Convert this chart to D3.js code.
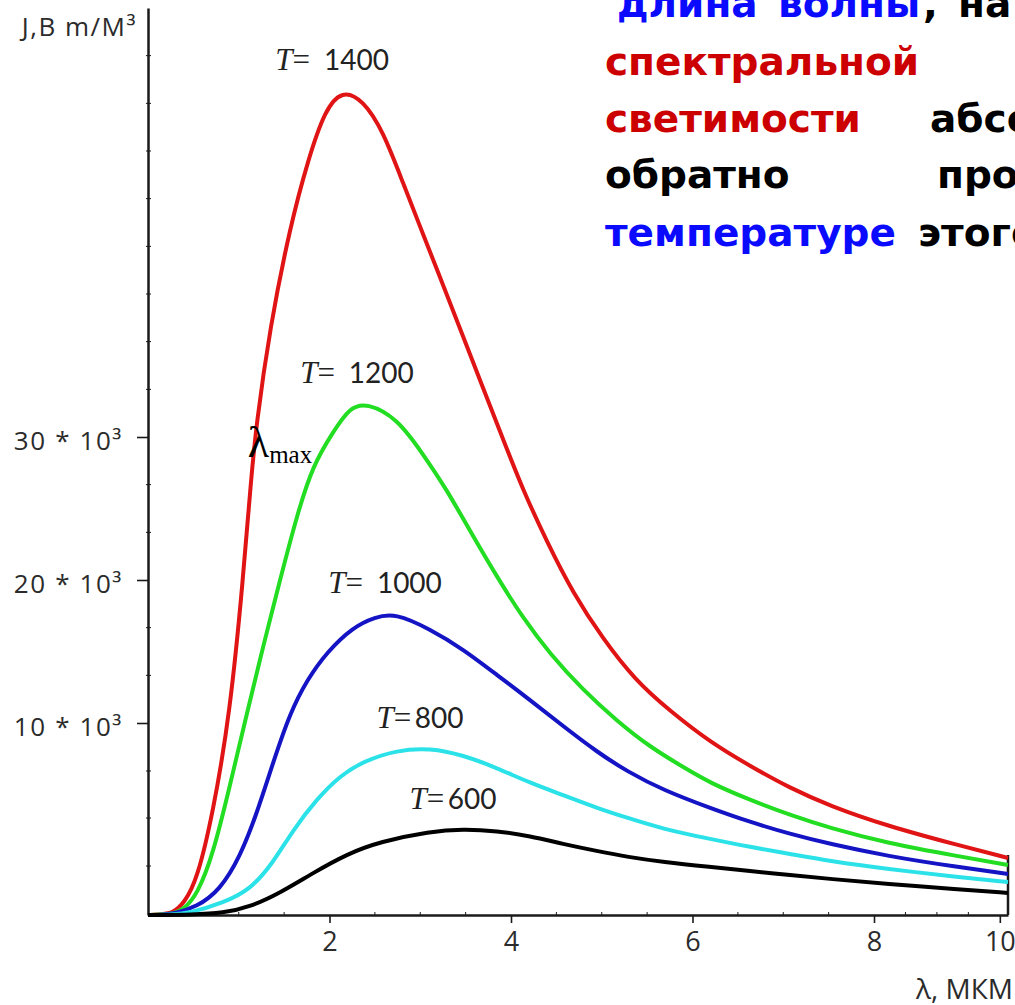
<!DOCTYPE html>
<html>
<head>
<meta charset="utf-8">
<script src="https://cdn.jsdelivr.net/npm/d3@7"></script>
<style>
  body { margin: 0; background: #fff; }
  svg { display: block; }
  .axis text { font-family: "Open Sans", Lato, sans-serif; fill: #2b2b2b; }
  .axis path, .axis line { stroke: #1a1a1a; }
</style>
</head>
<body>
<svg width="1015" height="1005"></svg>
<script>
// points: [lambda (мкм), value in 10^3 units]
var t1400 = [[0,0],[0.15,0.03],[0.275,0.10],[0.40,0.63],[0.54,1.82],[0.716,5.31],[0.904,10.70],
  [1.047,20.0],[1.135,26.99],[1.19,30.70],[1.344,37.69],[1.565,44.69],[1.763,49.37],[1.95,52.87],
  [2.138,54.27],[2.369,53.57],[2.59,51.40],[2.81,47.76],[3.03,44.20],[3.251,40.63],[3.471,37.06],
  [3.691,33.43],[3.912,29.86],[4.132,26.29],[4.397,22.66],[4.683,19.09],[5.014,15.87],[5.366,13.01],
  [5.752,10.84],[6.193,9.01],[6.634,7.76],[7.074,6.61],[7.515,5.68],[8.207,4.64],[9.32,3.65],[10.13,2.97]];
var t1200 = [[0,0],[0.15,0.02],[0.275,0.06],[0.397,0.31],[0.54,1.04],[0.716,3.13],[0.904,6.77],
  [1.091,10.70],[1.267,15.31],[1.455,20.0],[1.642,24.55],[1.818,28.04],[2.039,30.35],[2.226,32.10],
  [2.413,32.38],[2.744,31.33],[3.03,28.81],[3.295,26.29],[3.548,23.43],[3.846,20.21],[4.132,17.34],
  [4.43,14.83],[4.793,12.31],[5.168,10.14],[5.532,8.75],[5.895,7.71],[6.193,6.88],[6.634,5.99],
  [7.074,5.21],[7.515,4.53],[8.207,3.75],[9.32,3.07],[10.13,2.60]];
var t1000 = [[0,0],[0.15,0.01],[0.275,0.05],[0.54,0.42],[0.793,1.30],[1.014,3.02],[1.201,5.31],
  [1.377,7.92],[1.565,10.70],[1.752,13.01],[1.972,14.97],[2.259,16.71],[2.501,17.41],[2.722,17.69],
  [3.107,16.57],[3.471,15.17],[3.846,13.36],[4.209,11.61],[4.573,9.84],[4.948,8.49],[5.289,7.45],
  [5.675,6.51],[6.193,5.57],[6.634,4.84],[7.074,4.22],[7.515,3.70],[8.207,3.07],[9.32,2.50],[10.13,2.14]];
var t800 = [[0,0],[0.25,0.01],[0.463,0.10],[0.826,0.63],[1.124,1.30],[1.377,2.71],[1.598,4.43],
  [1.862,6.05],[2.116,7.25],[2.369,8.0],[2.744,8.59],[3.107,8.70],[3.471,8.33],[3.846,7.66],
  [4.209,6.88],[4.573,6.25],[4.948,5.57],[5.289,5.05],[5.675,4.48],[6.193,3.96],[6.634,3.54],
  [7.074,3.18],[7.515,2.81],[8.207,2.40],[9.32,1.98],[10.13,1.72]];
var t600 = [[0,0],[0.5,0.02],[0.826,0.10],[1.124,0.42],[1.455,1.15],[1.818,2.19],[2.193,3.18],
  [2.556,3.82],[3.107,4.35],[3.471,4.48],[3.846,4.38],[4.209,4.11],[4.573,3.70],[4.948,3.33],
  [5.289,3.02],[5.675,2.76],[6.193,2.50],[6.634,2.29],[7.074,2.08],[7.515,1.88],[8.207,1.61],
  [9.32,1.35],[10.13,1.15]];

var temps = [1400, 1200, 1000, 800, 600];
var seriesData = [t1400, t1200, t1000, t800, t600];
var colors = ["#e01414", "#22dd22", "#1414c4", "#2ae2e8", "#000000"];

var xTicks = [2, 4, 6, 8, 10];
var xMinor = [0.5,1,1.5,2.5,3,3.5,4.5,5,5.5,6.5,7,7.5,8.5,9,9.5];
var yTicks = [10, 20, 30];
var yMinor = [2.55,5.05,7.5,13.33,16.67,23.33,26.67,33.33,36.67,40,43.33,46.67,50,53.33,56.67];

var svg = d3.select("svg");

var x = d3.scaleLinear().domain([0, 8, 10.13]).range([148, 874, 1008]);
var y = d3.scaleLinear().domain([0, 10, 60]).range([915, 723, 8]);

// axes
var gx = svg.append("g").attr("class", "axis")
    .attr("transform", "translate(0," + y(0) + ")")
    .call(d3.axisBottom(x).tickValues(xTicks).tickSize(8).tickPadding(9).tickSizeOuter(0));
gx.selectAll("text").style("font-size", "27px");
gx.select(".domain").attr("stroke-width", 2.5);
gx.selectAll(".tick line").attr("stroke-width", 1.6);

gx.selectAll(".minor").data(xMinor).enter().append("line")
    .attr("x1", function(d) { return x(d); }).attr("x2", function(d) { return x(d); })
    .attr("y1", -3).attr("y2", 1)
    .attr("stroke", "#444").attr("stroke-width", 1);

var gy = svg.append("g").attr("class", "axis")
    .attr("transform", "translate(" + x(0) + ",0)")
    .call(d3.axisLeft(y).tickValues(yTicks).tickSize(11).tickPadding(14).tickSizeOuter(0)
      .tickFormat(function(d) { return d + " * 10\u00B3"; }));
gy.selectAll("text").style("font-size", "26px").style("letter-spacing", "1.6px").attr("dy", "0.48em");
gy.select(".domain").attr("stroke-width", 2.5);
gy.selectAll(".tick line").attr("stroke-width", 1.6);

gy.selectAll(".minor").data(yMinor).enter().append("line")
    .attr("y1", function(d) { return y(d); }).attr("y2", function(d) { return y(d); })
    .attr("x1", -2).attr("x2", 3)
    .attr("stroke", "#444").attr("stroke-width", 1);

// closing edge at the right end
svg.append("line")
    .attr("x1", x(10.13)).attr("x2", x(10.13))
    .attr("y1", y(t1400[t1400.length - 1][1]) - 3).attr("y2", y(0))
    .attr("stroke", "#1a1a1a").attr("stroke-width", 2.5);

// axis titles
svg.append("text").attr("x", 137).attr("y", 36).attr("text-anchor", "end")
    .style("font-family", "'Open Sans', Lato, sans-serif").style("font-size", "26px")
    .style("letter-spacing", "1.5px").style("fill", "#2b2b2b")
    .text("J,B m/M\u00B3");
svg.append("text").attr("x", 1013).attr("y", 999).attr("text-anchor", "end")
    .style("font-family", "'Open Sans', Lato, sans-serif").style("font-size", "28px").style("fill", "#2b2b2b")
    .text("\u03BB, МКМ");

// curves
var line = d3.line()
    .x(function(d) { return x(d[0]); })
    .y(function(d) { return y(d[1]); })
    .curve(d3.curveBasis);

svg.selectAll(".curve").data(seriesData).enter().append("path")
    .attr("class", "curve")
    .attr("d", line)
    .attr("fill", "none")
    .attr("stroke", function(d, i) { return colors[i]; })
    .attr("stroke-width", 4)
    .attr("stroke-linejoin", "round");

// T = ... labels above each peak
seriesData.forEach(function(s, i) {
  var peak = s.reduce(function(a, b) { return b[1] > a[1] ? b : a; });
  var t = svg.append("text")
      .attr("x", x(peak[0]) - 10).attr("y", y(peak[1]) - 20)
      .attr("text-anchor", "middle").style("fill", "#222");
  t.append("tspan").style("font-family", "'Liberation Serif', 'DejaVu Serif', serif")
      .style("font-style", "italic").style("font-size", "31px").text("T");
  t.append("tspan").style("font-family", "'Liberation Serif', 'DejaVu Serif', serif")
      .style("font-size", "31px").text("=");
  t.append("tspan").style("font-family", "Lato, 'Open Sans', sans-serif")
      .style("font-size", "28px").text((temps[i] >= 1000 ? "\u2002" : "\u2009") + temps[i]);
});

// lambda max note
var lm = svg.append("text").attr("x", x(1.1)).attr("y", y(28.6))
    .style("font-family", "'Liberation Serif', 'DejaVu Serif', serif").style("fill", "#000");
lm.append("tspan").style("font-size", "44px").text("\u03BB");
lm.append("tspan").style("font-size", "25px").attr("dy", 6).text("max");

// paragraph at top right (justified, cut by the picture edge)
var para = [
  {y: 17, w: [["длина", "#0a0aff", 617], ["волны", "#0a0aff", 778], [",", "#000", 923], ["на которую", "#000", 958]]},
  {y: 75, w: [["спектральной", "#cc0000", 605]]},
  {y: 132, w: [["светимости", "#cc0000", 605], ["абсолютно", "#000", 930]]},
  {y: 188, w: [["обратно", "#000", 605], ["пропорциональна", "#000", 937]]},
  {y: 246, w: [["температуре", "#0a0aff", 605], ["этого", "#000", 918]]}
];
para.forEach(function(row) {
  svg.selectAll(null).data(row.w).enter().append("text")
      .attr("x", function(d) { return d[2]; })
      .attr("y", row.y)
      .style("font-family", "'DejaVu Sans', Verdana, sans-serif")
      .style("font-weight", "bold")
      .style("font-size", "39px")
      .style("fill", function(d) { return d[1]; })
      .text(function(d) { return d[0]; });
});
</script>
</body>
</html>
